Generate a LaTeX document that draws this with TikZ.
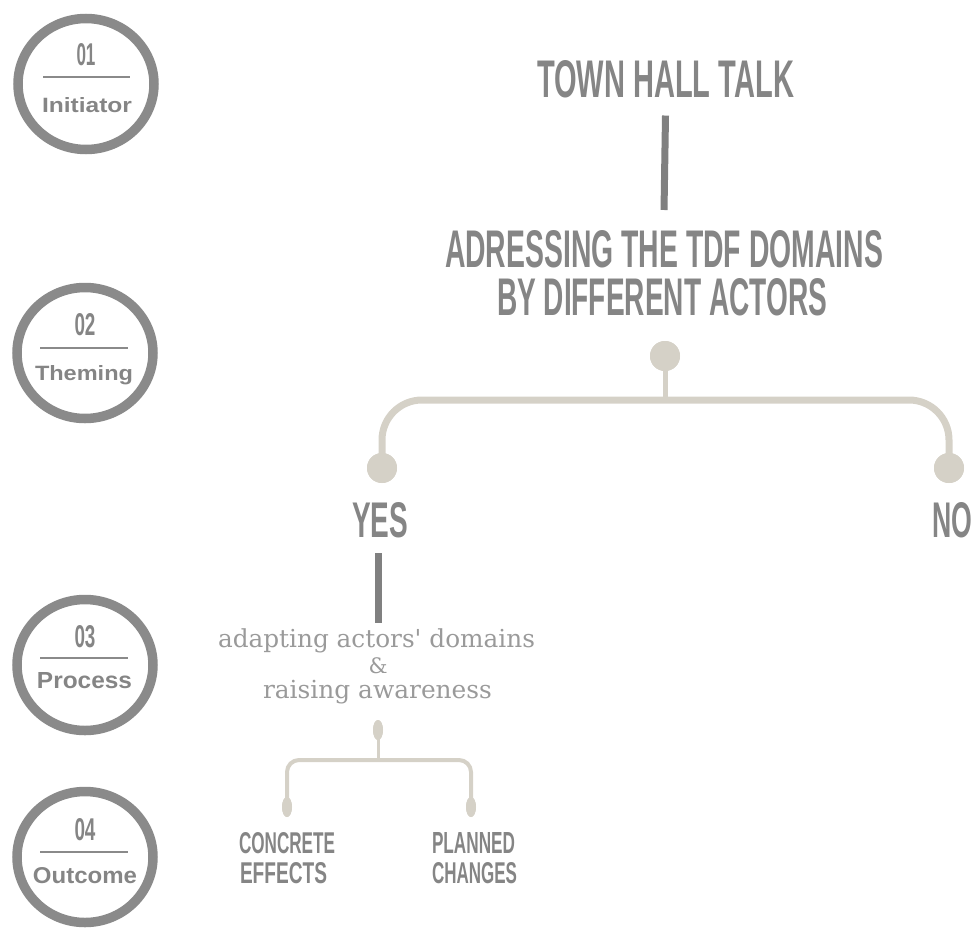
\documentclass[tikz,border=0pt]{standalone}
\usepackage{fontspec}
\usepackage{graphicx}
\setmainfont{Liberation Sans}
\newfontfamily\slabfont[Ligatures=TeXOff]{DejaVu Serif}
\usetikzlibrary{shapes.geometric}
\definecolor{txt}{HTML}{858585}
\definecolor{ringc}{HTML}{8A8A8A}
\definecolor{treec}{HTML}{D5D1C7}
\definecolor{slabc}{HTML}{9A9A9A}
\definecolor{stemc}{HTML}{808080}
\newcommand\fitbox[3]{\resizebox{#1pt}{#2pt}{#3}}
\tikzset{
  lbl/.style={inner sep=0pt, outer sep=0pt, text=txt, anchor=base west},
  ringnode/.style={ellipse, draw=ringc, line width=9.5pt, minimum width=136pt, minimum height=131pt, inner sep=0pt},
  divider/.style={draw=ringc, line width=2pt},
  stemline/.style={draw=stemc, line width=7pt},
  bigdot/.style={circle, fill=treec, minimum size=30pt, inner sep=0pt},
  smalldot/.style={ellipse, fill=treec, minimum width=10pt, minimum height=20pt, inner sep=0pt},
  bigbar/.style={draw=treec, line width=7pt, rounded corners=40pt},
  smallbar/.style={draw=treec, line width=4pt, rounded corners=12pt},
}
\begin{document}
\begin{tikzpicture}[x=1pt,y=-1pt]
\useasboundingbox (0,0) rectangle (979,929);

% stage circles
\node[ringnode] (c1) at (86,84) {};
\node[ringnode] (c2) at (85,353) {};
\node[ringnode] (c3) at (85,665) {};
\node[ringnode] (c4) at (85,857) {};

\node[lbl, anchor=base] (n1) at (86,65) {\fitbox{19}{22}{\bfseries 01}};
\draw[divider] (43,77) -- (130,77);
\node[lbl] (w1) at (42,112) {\fitbox{90}{15}{\bfseries Initiator}};

\node[lbl, anchor=base] (n2) at (85,335) {\fitbox{21}{22}{\bfseries 02}};
\draw[divider] (40,348) -- (128,348);
\node[lbl] (w2) at (35,380) {\fitbox{98}{15}{\bfseries Theming}};

\node[lbl, anchor=base] (n3) at (85,647) {\fitbox{21}{22}{\bfseries 03}};
\draw[divider] (40,658) -- (128,658);
\node[lbl] (w3) at (37,688) {\fitbox{95}{16}{\bfseries Process}};

\node[lbl, anchor=base] (n4) at (85,840) {\fitbox{21}{22}{\bfseries 04}};
\draw[divider] (40,852) -- (128,852);
\node[lbl] (w4) at (33,883) {\fitbox{104}{16}{\bfseries Outcome}};

% headings
\node[lbl] (title) at (537,97) {\fitbox{257}{37}{\bfseries TOWN HALL TALK}};
\node[lbl] (head1) at (445,267) {\fitbox{438}{37}{\bfseries ADRESSING THE TDF DOMAINS}};
\node[lbl] (head2) at (497,315) {\fitbox{330}{37}{\bfseries BY DIFFERENT ACTORS}};
\draw[stemline] ([yshift=-18pt]title.south) -- ([yshift=20pt]head1.north);

% main branch
\node[bigdot] (topdot) at (665,356) {};
\coordinate (barmid) at (665,400);
\node[bigdot] (yesdot) at (382,468) {};
\node[bigdot] (nodot) at (949,468) {};
\draw[draw=treec, line width=5pt] (topdot.center) -- (barmid);
\draw[bigbar] (yesdot.center) |- (barmid) -| (nodot.center);
\node[bigdot] at (topdot) {};
\node[bigdot] at (yesdot) {};
\node[bigdot] at (nodot) {};

\node[lbl] (yes) at (352,537) {\fitbox{56}{35}{\bfseries YES}};
\node[lbl] (no) at (932,537) {\fitbox{40}{35}{\bfseries NO}};

% process text
\node[lbl, text=slabc] (adapt) at (218,647) {\resizebox{317pt}{!}{\slabfont adapting actors' domains}};
\node[lbl, text=slabc, anchor=base] (amp) at (378,673) {\resizebox{19pt}{!}{\slabfont \&}};
\node[lbl, text=slabc] (raise) at (263,698) {\resizebox{229pt}{!}{\slabfont raising awareness}};
\coordinate (ytop) at ([xshift=-2pt,yshift=-16pt]yes.south);
\draw[stemline, shorten >=5pt] (ytop) -- (ytop |- adapt.north);

% small branch
\node[smalldot] (sdot) at (378,730) {};
\coordinate (sbar) at (378,760);
\node[smalldot] (cdot) at (287,807) {};
\node[smalldot] (pdot) at (471,807) {};
\draw[draw=treec, line width=3pt] (sdot.center) -- (sbar);
\draw[smallbar] (cdot.center) |- (sbar) -| (pdot.center);
\node[smalldot] at (sdot) {};
\node[smalldot] at (cdot) {};
\node[smalldot] at (pdot) {};

\node[lbl] (ce1) at (239,853) {\fitbox{96}{21}{\bfseries CONCRETE}};
\node[lbl] (ce2) at (240,883) {\fitbox{87}{21}{\bfseries EFFECTS}};
\node[lbl] (pc1) at (432,853) {\fitbox{83}{21}{\bfseries PLANNED}};
\node[lbl] (pc2) at (432,883) {\fitbox{85}{21}{\bfseries CHANGES}};
\end{tikzpicture}
\end{document}
